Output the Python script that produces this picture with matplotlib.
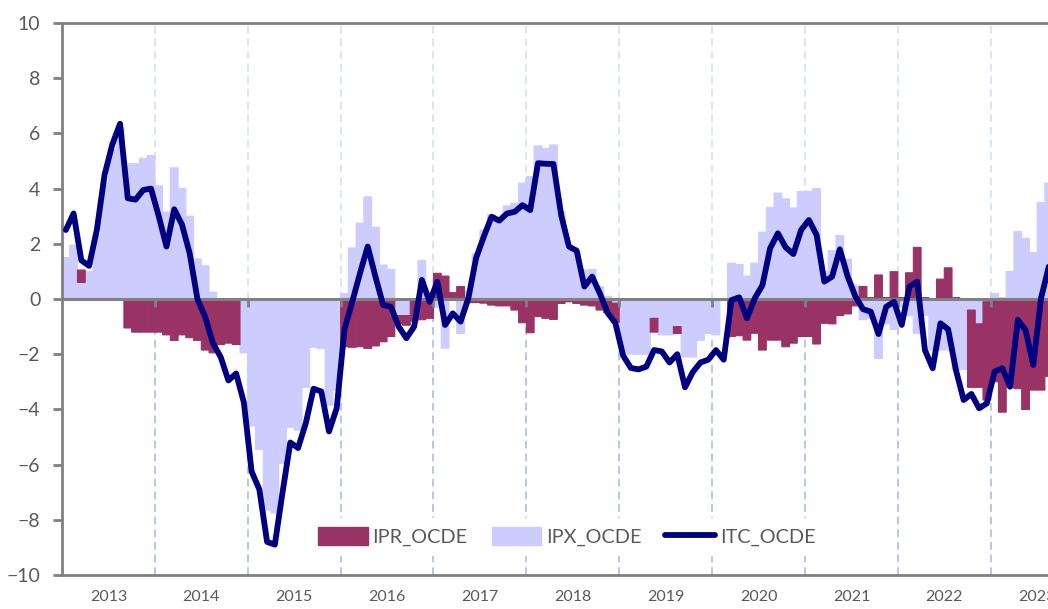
import numpy as np
import matplotlib.pyplot as plt
from matplotlib.patches import Patch
from matplotlib.lines import Line2D

plt.switch_backend('Agg')
plt.rcParams['font.family'] = ['Lato', 'DejaVu Sans']

# --- Dados mensais (jan/2013 -> ago/2023) ---
anos = ['2013', '2014', '2015', '2016', '2017', '2018',
        '2019', '2020', '2021', '2022', '2023']

itc_ocde = [
    2.5, 3.1, 1.4, 1.2, 2.5, 4.5, 5.6, 6.35, 3.65, 3.6, 3.95, 4.0,
    3.0, 1.9, 3.25, 2.7, 1.65, 0.0, -0.65, -1.6, -2.1, -2.95, -2.7, -3.75,
    -6.25, -6.9, -8.8, -8.9, -7.0, -5.2, -5.4, -4.5, -3.25, -3.35, -4.8, -3.95,
    -1.1, -0.1, 0.93, 1.9, 0.81, -0.22, -0.28, -1.0, -1.42, -1.0, 0.69, -0.1,
    0.63, -0.94, -0.52, -0.82, 0.02, 1.48, 2.26, 2.98, 2.84, 3.1, 3.16, 3.4,
    3.22, 4.92, 4.9, 4.89, 3.04, 1.9, 1.75, 0.45, 0.81, 0.2, -0.5, -0.87,
    -2.05, -2.5, -2.55, -2.45, -1.85, -1.9, -2.3, -2.0, -3.2, -2.65, -2.3, -2.2,
    -1.85, -2.2, -0.04, 0.06, -0.7, 0.02, 0.5, 1.84, 2.38, 1.87, 1.63, 2.5,
    2.86, 2.32, 0.63, 0.81, 1.8, 0.83, 0.1, -0.37, -0.46, -1.27, -0.28, -0.1,
    -0.94, 0.45, 0.63, -1.85, -2.51, -0.88, -1.1, -2.57, -3.66, -3.44, -3.96, -3.78,
    -2.63, -2.51, -3.18, -0.76, -1.12, -2.39, 0.03, 1.17,
]

ipx_ocde = [
    1.5, 1.95, 0.6, 1.0, 2.3, 4.2, 5.4, 6.2, 4.9, 4.9, 5.1, 5.2,
    4.1, 3.15, 4.75, 4.0, 3.0, 1.45, 1.2, 0.25, 0.0, 0.0, 0.0, -1.95,
    -4.6, -5.45, -7.65, -7.75, -5.95, -4.65, -4.75, -3.2, -1.75, -1.8, -3.85, -3.3,
    0.2, 1.85, 2.75, 3.7, 2.6, 1.23, 1.07, -0.6, -0.6, 0.0, 1.4, 0.15,
    -0.3, -1.78, 0.0, -1.25, 0.3, 1.65, 2.5, 3.05, 2.95, 3.37, 3.47, 4.2,
    4.43, 5.55, 5.46, 5.58, 3.16, 1.78, 1.65, 1.05, 1.07, 0.45, 0.1, -0.15,
    -1.95, -2.0, -2.0, -2.0, -0.7, -1.3, -1.3, -1.0, -2.1, -2.1, -1.5, -1.25,
    -1.3, 0.0, 1.3, 1.25, 0.83, 1.3, 2.42, 3.32, 3.84, 3.63, 3.3, 3.9,
    3.9, 4.0, 1.0, 1.75, 2.3, 1.44, 0.5, -0.75, -0.7, -2.15, -0.9, -1.1,
    -0.3, -0.6, -1.25, -0.6, -1.85, -1.85, -1.85, -2.55, -2.55, -0.4, -0.9, -0.1,
    0.2, 0.05, 1.0, 2.44, 2.2, 1.68, 3.5, 4.2,
]

ipr_ocde = [
    0.0, 0.0, 0.45, 0.0, 0.0, 0.0, 0.0, 0.0, -1.05, -1.2, -1.2, -1.2,
    -1.2, -1.3, -1.5, -1.3, -1.4, -1.5, -1.85, -1.95, -1.65, -1.6, -1.65, 0.0,
    0.0, 0.0, 0.0, 0.0, 0.0, 0.0, 0.0, 0.0, 0.0, 0.0, 0.0, 0.0,
    -1.73, -1.75, -1.73, -1.79, -1.7, -1.55, -1.36, -0.3, -0.35, -0.8, -0.75, -0.7,
    0.93, 0.83, 0.23, 0.45, -0.13, -0.13, -0.15, -0.22, -0.25, -0.25, -0.4, -0.86,
    -1.22, -0.64, -0.7, -0.74, -0.16, -0.1, -0.16, -0.22, -0.25, -0.4, -0.5, -0.7,
    0.0, 0.0, 0.0, 0.0, -0.5, 0.0, 0.0, -0.25, 0.0, 0.0, 0.0, 0.0,
    0.0, 0.0, -1.36, -1.33, -1.49, -1.24, -1.85, -1.49, -1.49, -1.73, -1.6, -1.36,
    -1.36, -1.63, -0.88, -0.9, -0.6, -0.54, -0.25, 0.45, 0.05, 0.87, 0.05, 0.99,
    0.05, 0.95, 1.87, 0.05, 0.0, 0.72, 1.13, 0.05, 0.0, -2.8, -2.3, -3.56,
    -3.0, -4.1, -3.2, -3.25, -4.0, -3.3, -3.3, -2.8,
]

cor_ipr = '#993366'
cor_ipx = '#CCCCFF'
cor_itc = '#000080'
cinza = '#808080'
texto = '#595959'

meses = np.arange(len(itc_ocde))
ipx = np.array(ipx_ocde)
ipr = np.array(ipr_ocde)
# barras empilhadas: IPR vai por cima do IPX quando têm o mesmo sinal
base_ipr = np.where(np.sign(ipr) == np.sign(ipx), ipx, 0.0)

fig = plt.figure(figsize=(10.48, 6.09), dpi=100)
ax = fig.add_axes([62 / 1048, 34 / 609, 986 / 1048, 552 / 609])

# sem snap e com borda da mesma cor -> barras coladas, sem fresta branca
barras_x = ax.bar(meses, ipx, width=1.0, color=cor_ipx, edgecolor=cor_ipx,
                  linewidth=0.8, zorder=2)
barras_r = ax.bar(meses, ipr, width=1.0, bottom=base_ipr, color=cor_ipr,
                  edgecolor=cor_ipr, linewidth=0.8, zorder=2.1)
for b in list(barras_x) + list(barras_r):
    b.set_snap(False)

# separadores de ano
limites = np.arange(1, len(anos)) * 12 - 0.5
ax.vlines(limites, 0, 10, colors='#dbe6f2', linestyles=(0, (4, 2.5)), lw=1.4, zorder=1)
ax.vlines(limites, -10, 0, colors='#b3cae3', linestyles=(0, (4, 2.5)), lw=1.4, zorder=1)

ax.axhline(0, color=cinza, lw=2.2, zorder=3)
ax.vlines(limites, -0.28, 0, colors=cinza, lw=2.0, zorder=3)

ax.plot(meses, itc_ocde, color=cor_itc, lw=4.2, zorder=4,
        solid_joinstyle='round', solid_capstyle='round')

ax.set_xlim(-0.5, 126.9)
ax.set_ylim(-10, 10)
ax.set_yticks(np.arange(-10, 11, 2))
ax.set_xticks(np.arange(len(anos)) * 12 + 5.5)
ax.set_xticklabels(anos)

ax.tick_params(axis='y', direction='out', length=6.5, width=2, color=cinza,
               labelsize=14, labelcolor=texto, pad=9)
ax.tick_params(axis='x', length=0, labelsize=11.5, labelcolor=texto, pad=11)

for lado in ['left', 'top', 'bottom']:
    ax.spines[lado].set_color(cinza)
    ax.spines[lado].set_linewidth(2.0)
ax.spines['right'].set_visible(False)

handles = [Patch(color=cor_ipr, label='IPR_OCDE'),
           Patch(color=cor_ipx, label='IPX_OCDE'),
           Line2D([0], [0], color=cor_itc, lw=4.2, solid_capstyle='round', label='ITC_OCDE')]
leg = ax.legend(handles=handles, loc='center', bbox_to_anchor=(0.512, 0.069), ncol=3,
                frameon=True, facecolor='white', edgecolor='none', framealpha=1,
                fontsize=14.3, handlelength=2.5, handleheight=1.0,
                handletextpad=0.25, columnspacing=1.2, borderpad=0.5)
leg.get_frame().set_boxstyle('square', pad=0)
leg.set_zorder(5)
for t in leg.get_texts():
    t.set_color(texto)

fig.savefig('out.png', dpi=100)
